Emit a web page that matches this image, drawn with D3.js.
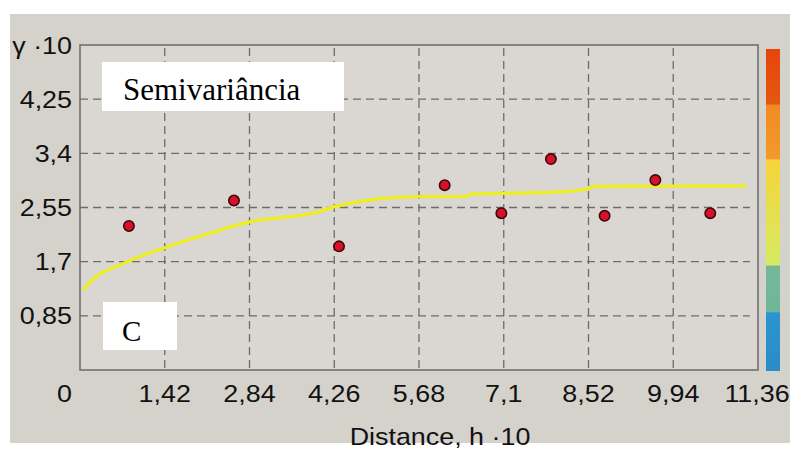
<!DOCTYPE html>
<html>
<head>
<meta charset="utf-8">
<script src="https://cdn.jsdelivr.net/npm/d3@7/dist/d3.min.js"></script>
<style>
  html, body { margin: 0; padding: 0; background: #ffffff; }
  svg { display: block; }
  text { font-family: "Liberation Sans", Arial, sans-serif; fill: #111; }
</style>
</head>
<body>
<svg id="chart" width="790" height="455"></svg>
<script>
// ---- data ----
const xTicks = [0, 1.42, 2.84, 4.26, 5.68, 7.1, 8.52, 9.94, 11.36];
const yTicks = [0.85, 1.7, 2.55, 3.4, 4.25];
const pointX = [0.82, 2.58, 4.34, 6.11, 7.06, 7.89, 8.79, 9.64, 10.56];
const pointY = [2.26, 2.66, 1.94, 2.90, 2.46, 3.31, 2.42, 2.98, 2.46];
const modelX = [0.05, 0.13, 0.80, 1.42, 2.19, 2.82, 3.99, 4.33, 5.67, 6.46, 6.55, 7.97, 8.51, 8.61, 11.17];
const modelY = [1.25, 1.34, 1.70, 1.92, 2.15, 2.32, 2.48, 2.58, 2.72, 2.72, 2.76, 2.79, 2.84, 2.88, 2.89];
const legendColors = [
  {offset: 0.00, color: "#e8440c"}, {offset: 0.17, color: "#e2580e"},
  {offset: 0.175, color: "#f28a22"}, {offset: 0.34, color: "#f29a2c"},
  {offset: 0.345, color: "#f6d43a"}, {offset: 0.67, color: "#d6ea62"},
  {offset: 0.675, color: "#72b898"}, {offset: 0.815, color: "#70b69a"},
  {offset: 0.82, color: "#2c94d0"}, {offset: 1.00, color: "#2a8cc8"}
];
const xMax = 11.36, yMax = 5.1;
const yTitle = "γ ·10";
const xTitle = "Distance, h ·10";
const title = "Semivariância";
const panelLetter = "C";

// ---- layout ----
const svg = d3.select("#chart");
const L = 80, R = 758, T = 45, B = 370;
const x = d3.scaleLinear().domain([0, xMax]).range([L, R]);
const y = d3.scaleLinear().domain([0, yMax]).range([B, T]);
const loc = d3.formatLocale({decimal: ",", thousands: ".", grouping: [3], currency: ["", ""]});
const fmt = v => loc.format("~g")(v);
const SX = 1.12;

// backgrounds
svg.append("rect").attr("x", 10).attr("y", 14).attr("width", 780).attr("height", 429).attr("fill", "#d5d2cc");
svg.append("rect").attr("x", L).attr("y", T).attr("width", R - L).attr("height", B - T).attr("fill", "#dad7d2");

// grid
const grid = svg.append("g").attr("stroke", "#6c6c6c").attr("stroke-width", 1.3).attr("stroke-dasharray", "8,5");
grid.selectAll("line.v").data(xTicks.filter(d => d > 0 && d < xMax)).join("line")
  .attr("x1", d => x(d)).attr("x2", d => x(d)).attr("y1", T + 3).attr("y2", B);
grid.selectAll("line.h").data(yTicks).join("line")
  .attr("x1", L).attr("x2", 750).attr("y1", d => y(d)).attr("y2", d => y(d));

// frame
svg.append("rect").attr("x", L).attr("y", T).attr("width", R - L).attr("height", B - T)
  .attr("fill", "none").attr("stroke", "#6a6a6a").attr("stroke-width", 1.5);

// model curve
const line = d3.line().x(d => x(d[0])).y(d => y(d[1])).curve(d3.curveMonotoneX);
svg.append("path").datum(modelX.map((v, i) => [v, modelY[i]]))
  .attr("d", line).attr("fill", "none").attr("stroke", "#eeee1e").attr("stroke-width", 3.2);

// points
svg.selectAll("circle.pt").data(pointX.map((v, i) => [v, pointY[i]])).join("circle")
  .attr("cx", d => x(d[0])).attr("cy", d => y(d[1])).attr("r", 5.2)
  .attr("fill", "#d8102a").attr("stroke", "#3a0808").attr("stroke-width", 1.6);

// y tick labels
svg.selectAll("text.yl").data(yTicks).join("text")
  .attr("text-anchor", "end").attr("font-size", 24)
  .attr("transform", d => `translate(72,${y(d) + 8.5}) scale(${SX},1)`)
  .text(d => fmt(d));
svg.append("text").attr("text-anchor", "end").attr("font-size", 24)
  .attr("transform", `translate(72,${T + 9}) scale(${SX},1)`).text(yTitle);

// x tick labels
svg.selectAll("text.xl").data(xTicks).join("text")
  .attr("text-anchor", d => d === 0 ? "end" : "middle").attr("font-size", 24)
  .attr("transform", d => `translate(${d === 0 ? 72 : (d === xMax ? x(d) - 1 : x(d))},402) scale(${SX},1)`)
  .text(d => fmt(d));
svg.append("text").attr("text-anchor", "middle").attr("font-size", 24)
  .attr("transform", `translate(440,445) scale(${SX},1)`).text(xTitle);

// colour legend bar
const grad = svg.append("defs").append("linearGradient").attr("id", "lg")
  .attr("x1", 0).attr("y1", 0).attr("x2", 0).attr("y2", 1);
grad.selectAll("stop").data(legendColors).join("stop")
  .attr("offset", d => d.offset).attr("stop-color", d => d.color);
svg.append("rect").attr("x", 766).attr("y", 49).attr("width", 14).attr("height", 322).attr("fill", "url(#lg)");

// white label boxes
svg.append("rect").attr("x", 102).attr("y", 62).attr("width", 242).attr("height", 49).attr("fill", "#fff");
svg.append("text").attr("x", 123).attr("y", 100).attr("font-size", 31)
  .style("font-family", "'Liberation Serif', 'Times New Roman', serif").style("fill", "#000").text(title);
svg.append("rect").attr("x", 103).attr("y", 302).attr("width", 74).attr("height", 48).attr("fill", "#fff");
svg.append("text").attr("x", 122).attr("y", 341).attr("font-size", 29)
  .style("font-family", "'Liberation Serif', 'Times New Roman', serif").style("fill", "#000").text(panelLetter);
</script>
</body>
</html>
